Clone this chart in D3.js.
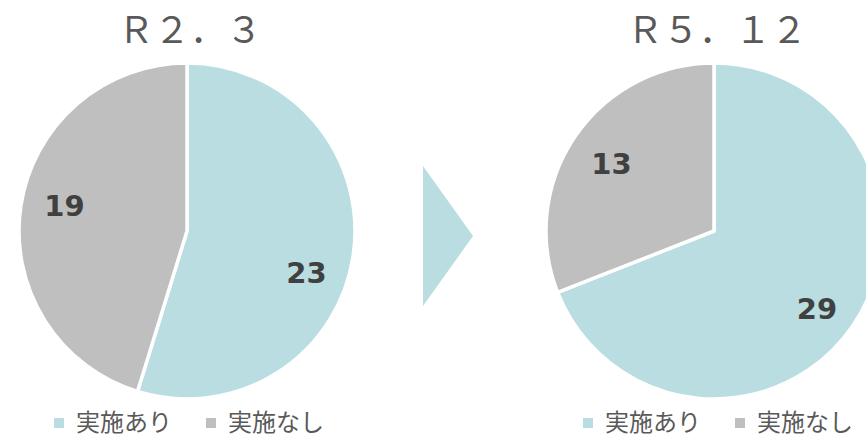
<!DOCTYPE html>
<html><head><meta charset="utf-8">
<script src="https://cdn.jsdelivr.net/npm/d3@7"></script>
<style>html,body{margin:0;padding:0;background:#fff;overflow:hidden}</style>
</head><body>
<svg id="chart" width="866" height="439"></svg>
<script>
const titles = ["Ｒ２．３", "Ｒ５．１２"];
const categories = ["実施あり", "実施なし"];
const valuesR2 = [23, 19];
const valuesR5 = [29, 13];
const colors = ["#B9DDE1", "#BFBFBF"];

const svg = d3.select("#chart");
const radius = 168;
const pies = [
  {title: titles[0], values: valuesR2, cx: 187, legendX: 54, nudge: [11, 3], rr: [0.755, 0.745]},
  {title: titles[1], values: valuesR5, cx: 714, legendX: 583, nudge: [3, -1], rr: [0.77, 0.73]}
];
const cy = 231;
const pie = d3.pie().sort(null).value(d => d);
const arc = d3.arc().innerRadius(0).outerRadius(radius);

pies.forEach(p => {
  const g = svg.append("g").attr("transform", `translate(${p.cx},${cy})`);
  const arcs = pie(p.values);
  g.selectAll("path").data(arcs).join("path")
    .attr("d", arc)
    .attr("fill", (d, i) => colors[i])
    .attr("stroke", "#fff").attr("stroke-width", 3.5).attr("stroke-linejoin", "round");
  g.selectAll("text.lbl").data(arcs).join("text").attr("class", "lbl")
    .each(function(d, i) {
      const a = (d.startAngle + d.endAngle) / 2 + p.nudge[i] * Math.PI / 180;
      const r = radius * p.rr[i];
      d3.select(this)
        .attr("x", r * Math.sin(a))
        .attr("y", -r * Math.cos(a))
        .text(d.data);
    })
    .attr("text-anchor", "middle").attr("dominant-baseline", "central")
    .attr("font-family", "'DejaVu Sans', Verdana, sans-serif")
    .attr("font-weight", "bold").attr("font-size", 29)
    .attr("fill", "#404040");

  svg.append("text")
    .attr("x", p.cx + 3).attr("y", 43)
    .attr("text-anchor", "middle")
    .attr("font-family", "'Noto Sans CJK JP', sans-serif")
    .attr("font-size", 36).attr("fill", "#595959")
    .text(p.title);

  const lg = svg.append("g").attr("transform", `translate(${p.legendX},0)`);
  categories.forEach((c, i) => {
    const x0 = i * 152;
    lg.append("rect").attr("x", x0).attr("y", 418).attr("width", 10).attr("height", 10)
      .attr("fill", colors[i]);
    lg.append("text").attr("x", x0 + 22).attr("y", 431)
      .attr("font-family", "'Noto Sans CJK JP', sans-serif")
      .attr("font-size", 24).attr("fill", "#595959")
      .text(c);
  });
});

// arrow between pies
const ax = d3.scaleLinear().domain([0, 1]).range([423, 473]);
const ay = d3.scaleLinear().domain([0, 1]).range([166, 306]);
svg.append("path")
  .attr("d", d3.line()([[ax(0), ay(0)], [ax(1), ay(0.5)], [ax(0), ay(1)]]) + "Z")
  .attr("fill", colors[0]);
</script>
</body></html>
